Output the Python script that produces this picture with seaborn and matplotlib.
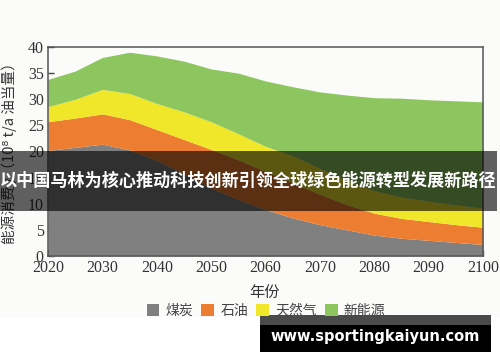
import matplotlib
matplotlib.use("Agg")
import numpy as np
import pandas as pd
import seaborn as sns
import matplotlib.pyplot as plt
from matplotlib.patches import Rectangle

# ---- data ----
years = [2020, 2025, 2030, 2035, 2040, 2045, 2050, 2055, 2060,
         2065, 2070, 2075, 2080, 2085, 2090, 2095, 2100]
coal = [20.2, 20.8, 21.4, 20.3, 18.3, 15.8, 13.0, 10.8, 8.9,
        7.3, 6.0, 5.0, 4.0, 3.4, 3.0, 2.6, 2.2]
oil = [5.5, 5.6, 5.8, 5.8, 5.9, 6.5, 7.4, 7.6, 7.3,
       6.7, 5.8, 4.8, 4.2, 3.8, 3.6, 3.4, 3.3]
gas = [2.9, 3.6, 4.7, 5.0, 5.0, 5.3, 5.3, 5.0, 4.8,
       5.2, 5.0, 4.7, 4.3, 4.1, 3.9, 3.8, 3.7]
new_energy = [5.2, 5.4, 6.1, 7.9, 9.1, 9.7, 10.1, 11.6, 12.5,
              13.2, 14.6, 16.3, 17.8, 18.9, 19.4, 19.9, 20.3]
series_names = ["煤炭", "石油", "天然气", "新能源"]
x_ticks = [2020, 2030, 2040, 2050, 2060, 2070, 2080, 2090, 2100]
y_ticks = [0, 5, 10, 15, 20, 25, 30, 35, 40]
x_label = "年份"
y_label = "能源消费 /（10⁸ t/a 油当量）"
banner_text = "以中国马林为核心推动科技创新引领全球绿色能源转型发展新路径"
watermark = "www.sportingkaiyun.com"

colors = ["#808080", "#ED7D31", "#F0E62A", "#8DC55E"]

df = pd.DataFrame({"year": years, series_names[0]: coal, series_names[1]: oil,
                   series_names[2]: gas, series_names[3]: new_energy})

sns.set_theme(style="ticks")
cjk = ["Noto Sans CJK SC", "DejaVu Sans"]
plt.rcParams["font.family"] = cjk
plt.rcParams["axes.unicode_minus"] = False

W, H = 500, 362
fig = plt.figure(figsize=(W / 100, H / 100), dpi=100)
fig.patch.set_facecolor("#FBFBFA")
ax = fig.add_axes([48 / W, 1 - 256 / H, (483 - 48) / W, (256 - 47) / H])
ax.set_facecolor("#FBFBFA")

polys = ax.stackplot(df["year"], [df[n] for n in series_names],
                     labels=series_names, colors=colors, linewidth=0)

ax.set_xlim(2020, 2100)
ax.set_ylim(0, 40)
ax.set_xticks(x_ticks)
ax.set_yticks(y_ticks)
ax.set_xticklabels([str(t) for t in x_ticks], family="Liberation Serif",
                   fontsize=11.5, color="#333333")
ax.set_yticklabels([str(t) for t in y_ticks], family="Liberation Serif",
                   fontsize=11.5, color="#333333")
ax.tick_params(direction="in", length=4, width=1, color="#444444", pad=3,
               top=False, right=False)
for s in ax.spines.values():
    s.set_visible(True)
    s.set_color("#555555")
    s.set_linewidth(1.1)
ax.set_xlabel("")
ax.set_ylabel("")

fig.text(9 / W, 1 - 150 / H, y_label, rotation=90, ha="center", va="center",
         fontsize=10.5, color="#333333", family=cjk)
fig.text(265 / W, 1 - 292 / H, x_label, ha="center", va="center",
         fontsize=11, color="#333333", family=cjk)

leg = fig.legend(handles=polys, labels=series_names, loc="center",
                 bbox_to_anchor=(266 / W, 1 - 311 / H), ncol=4, frameon=False,
                 handlelength=0.9, handleheight=0.9, handletextpad=0.45,
                 columnspacing=0.6, prop={"family": cjk, "size": 10})
for t in leg.get_texts():
    t.set_color("#444444")

# lower white area of the picture
fig.patches.append(Rectangle((0, 0), 1, 1 - 317 / H, transform=fig.transFigure,
                             facecolor="white", edgecolor="none", zorder=-1))

# overlay banner
fig.patches.append(Rectangle((0, 1 - 211 / H), 497 / W, 60 / H,
                             transform=fig.transFigure, facecolor="black",
                             edgecolor="none", alpha=0.62, zorder=5))
fig.text(248 / W, 1 - 181 / H, banner_text, ha="center", va="center",
         color="white", fontsize=12.3, fontweight="bold", family=cjk, zorder=6)

# watermark box
fig.patches.append(Rectangle((260 / W, 1 - 325 / H), 231 / W, 10 / H,
                             transform=fig.transFigure, facecolor="#4a4a4a",
                             edgecolor="none", zorder=5))
fig.patches.append(Rectangle((260 / W, 1 - 352 / H), 231 / W, 27 / H,
                             transform=fig.transFigure, facecolor="black",
                             edgecolor="none", zorder=5))
fig.text(375 / W, 1 - 337 / H, watermark, ha="center", va="center",
         color="white", fontsize=10.5, fontweight="bold",
         family="DejaVu Sans", zorder=6)

fig.savefig("out.png", dpi=100, facecolor=fig.get_facecolor())
